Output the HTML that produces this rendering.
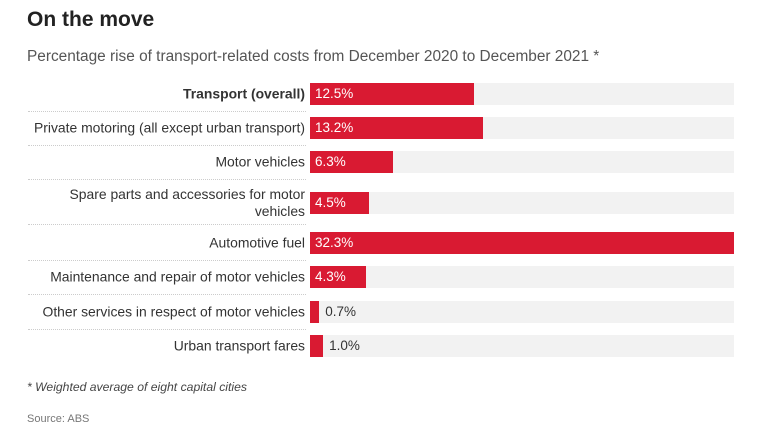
<!DOCTYPE html>
<html><head><meta charset="utf-8"><style>
body{margin:0;width:758px;height:432px;background:#fff;font-family:"Liberation Sans",sans-serif;position:relative;overflow:hidden;color:#333}
.a{position:absolute}
.lbl{position:absolute;right:453px;text-align:right;font-size:13.9px;line-height:17px;color:#333;width:300px;white-space:nowrap;transform:translateY(-50%)}
.bg{position:absolute;left:310px;width:424px;height:22px;background:#f2f2f2}
.bar{position:absolute;left:310px;height:22px;background:#d91a32}
.val{position:absolute;font-size:13.5px;line-height:22px}
.sep{position:absolute;left:28px;width:278px;border-top:1px dotted #ccc}
</style></head><body>
<div class="a" style="left:27px;top:8px;font-size:21px;font-weight:bold;color:#222">On the move</div>
<div class="a" style="left:27px;top:48px;font-size:15.4px;color:#555">Percentage rise of transport-related costs from December 2020 to December 2021 *</div>
<div id="chart"></div>
<div class="a" style="left:27px;top:380px;font-size:12.2px;font-style:italic;color:#444">* Weighted average of eight capital cities</div>
<div class="a" style="left:27px;top:413px;font-size:11px;color:#777">Source: ABS</div>
<script>
const categories=["Transport (overall)","Private motoring (all except urban transport)","Motor vehicles","Spare parts and accessories for motor\nvehicles","Automotive fuel","Maintenance and repair of motor vehicles","Other services in respect of motor vehicles","Urban transport fares"];
const values=[12.5,13.2,6.3,4.5,32.3,4.3,0.7,1.0];
const maxVal=32.3;
const c=document.getElementById('chart');
const centers=[94,128,162,203,243,277,312,346];
const seps=[111,145,179,224,260,294,329];
function x(v){return v/maxVal*424;}
categories.forEach((cat,i)=>{
  const cy=centers[i];
  const l=document.createElement('div');l.className='lbl';
  
  
  l.style.whiteSpace='pre';
  l.textContent=cat;
  if(i===0)l.style.fontWeight='bold';
  l.style.top=cy+'px';
  c.appendChild(l);
  const bg=document.createElement('div');bg.className='bg';
  
  
  bg.style.top=(cy-11)+'px';c.appendChild(bg);
  const b=document.createElement('div');b.className='bar';
  
  
  const w=x(values[i]);
  b.style.top=(cy-11)+'px';b.style.width=w+'px';c.appendChild(b);
  const t=document.createElement('div');t.className='val';
  
  
  t.textContent=values[i].toFixed(1)+'%';
  t.style.top=(cy-11)+'px';
  if(w>45){t.style.left='315px';t.style.color='#fff';}else{t.style.left=(310+w+6)+'px';t.style.color='#333';}
  c.appendChild(t);
});
seps.forEach(y=>{const s=document.createElement('div');s.className='sep';


s.style.top=y+'px';c.appendChild(s);});
</script>
</body></html>
